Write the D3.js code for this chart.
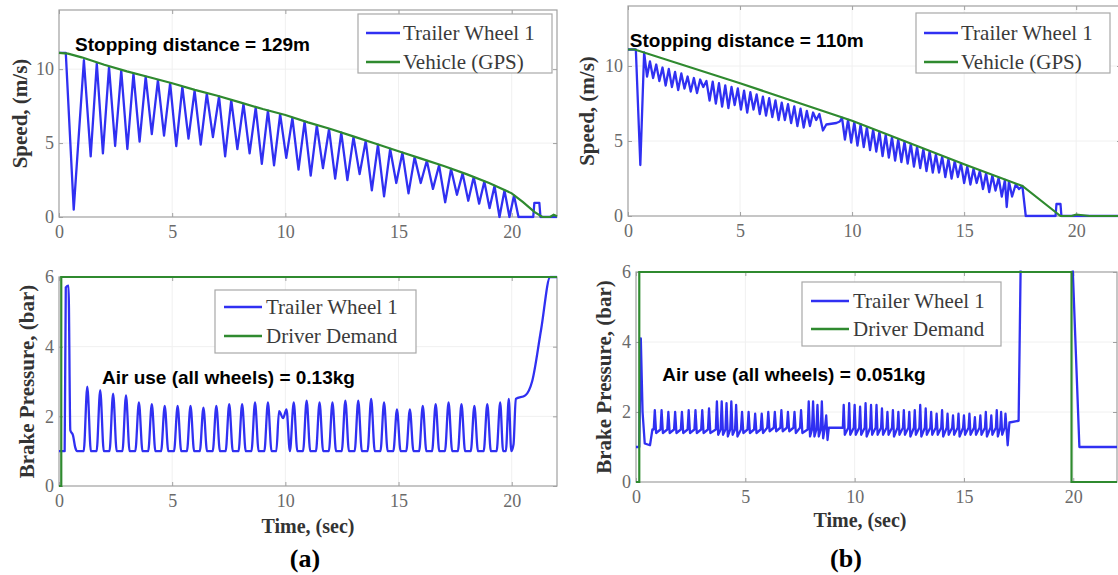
<!DOCTYPE html>
<html><head><meta charset="utf-8">
<script src="https://cdn.jsdelivr.net/npm/d3@7"></script>
<style>body{margin:0;background:#fff}svg{display:block}</style>
</head><body>
<svg id="c" width="1118" height="575"></svg>
<script>
// ---------------- data ----------------
const xTicks = [0, 5, 10, 15, 20];
const speedTicks = [0, 5, 10];
const pressTicks = [0, 2, 4, 6];
const seriesNames = ["Trailer Wheel 1", "Vehicle (GPS)", "Driver Demand"];

// (a) speed
const vehicleA = [[0,11.1],[0.4,11.05],[1,10.8],[2,10.3],[3,9.85],[4,9.45],[5,9.05],[6,8.6],[7,8.2],[8,7.75],[9,7.3],[10,6.9],[11,6.4],[12,5.95],[13,5.45],[14,4.95],[15,4.45],[16,3.95],[17,3.45],[18,2.9],[19,2.3],[20,1.6],[20.5,1.0],[21,0.35],[21.35,0],[21.7,0],[21.85,0.15],[22,0.05]];
const wheelA = [[0,11.1],[0.3,11.1],[0.65,0.5],[1.1,10.6],
[1.4,4.1],[1.67,10.4],[1.94,4.3],[2.21,10.15],[2.48,4.8],[2.75,9.9],[3.02,4.6],[3.29,9.7],[3.56,5.1],[3.83,9.5],
[4.1,5.6],[4.37,9.25],[4.64,5.5],[4.91,9.05],[5.18,4.8],[5.45,8.8],[5.72,5.3],[5.99,8.55],[6.26,4.9],[6.53,8.35],
[6.8,5.4],[7.07,8.15],[7.34,4.1],[7.61,7.9],[7.88,4.6],[8.15,7.65],[8.42,4.3],[8.69,7.4],[8.96,3.6],[9.23,7.2],
[9.5,3.5],[9.77,6.95],[10.04,4.0],[10.31,6.7],[10.58,3.2],[10.85,6.45],[11.12,2.8],[11.39,6.2],[11.66,3.3],[11.93,5.95],
[12.2,2.6],[12.47,5.7],[12.74,2.5],[13.01,5.4],[13.28,2.9],[13.55,5.15],[13.82,1.8],[14.09,4.9],[14.36,1.4],[14.63,4.6],
[14.9,2.3],[15.17,4.35],[15.44,1.6],[15.71,4.05],[15.98,2.3],[16.25,3.8],[16.52,1.9],[16.79,3.5],[17.06,1.0],[17.32,3.25],
[17.58,1.5],[17.83,2.95],[18.08,1.1],[18.32,2.7],[18.56,0.9],[18.79,2.4],[19.02,0.6],[19.24,2.1],[19.46,0.0],[19.68,1.8],
[19.9,0.0],[20.1,1.45],[20.3,0.0],[20.95,0.0],[21.0,0.95],[21.22,0.95],[21.27,0.0],[22,0.0]];

// (b) speed
const vehicleB = [[0,11.1],[0.3,11.1],[5,8.85],[10,6.35],[15,3.45],[17.6,2.0],[19.3,0],[19.8,0],[20.0,0.1],[20.3,0.05],[20.6,0],[22,0]];
const wheelB = [[0,11.1],[0.35,11.1],[0.55,3.4],[0.72,10.9],[0.85,9.3],[0.98,10.3],[1.12,9.2],[1.26,10.1],[1.4,9.0],[1.54,9.9],
[1.68,8.7],[1.82,9.8],[1.96,8.6],[2.1,9.6],[2.24,8.4],[2.38,9.5],[2.52,8.5],[2.66,9.3],[2.8,8.3],[2.94,9.2],[3.08,8.2],[3.22,9.1],
[3.36,8.6],[3.5,9.0],[3.64,7.7],[3.78,8.95],[3.92,7.5],[4.06,8.85],[4.2,7.3],[4.34,8.7],[4.48,7.2],[4.62,8.6],[4.76,7.4],[4.9,8.5],
[5.04,7.1],[5.18,8.35],[5.32,6.9],[5.46,8.25],[5.6,7.1],[5.74,8.1],[5.88,6.8],[6.02,7.95],[6.16,6.7],[6.3,7.85],[6.44,6.6],[6.58,7.7],
[6.72,6.4],[6.86,7.55],[7.0,6.4],[7.14,7.45],[7.28,6.2],[7.42,7.3],[7.56,6.0],[7.7,7.15],[7.84,5.9],[7.98,7.0],[8.12,6.0],[8.26,6.9],
[8.4,6.4],[8.54,6.8],[8.7,5.7],[8.85,6.1],[9.3,6.2],[9.45,6.3],[9.55,6.55],[9.68,5.1],[9.82,6.4],[9.96,4.9],[10.1,6.25],[10.24,4.7],
[10.38,6.1],[10.52,4.6],[10.66,5.9],[10.8,4.4],[10.94,5.75],[11.08,4.3],[11.22,5.6],[11.36,4.0],[11.5,5.4],[11.64,3.9],[11.78,5.25],
[11.92,3.7],[12.06,5.1],[12.2,3.6],[12.34,4.95],[12.48,3.5],[12.62,4.8],[12.76,3.3],[12.9,4.6],[13.04,3.2],[13.18,4.45],[13.32,3.0],
[13.46,4.3],[13.6,2.9],[13.74,4.1],[13.88,2.9],[14.02,3.95],[14.16,2.6],[14.3,3.8],[14.44,2.5],[14.58,3.65],[14.72,2.6],[14.86,3.5],
[15.0,2.2],[15.14,3.3],[15.28,2.1],[15.42,3.15],[15.56,2.2],[15.7,3.0],[15.84,1.8],[15.98,2.85],[16.12,1.6],[16.26,2.7],[16.4,1.7],
[16.54,2.55],[16.68,1.3],[16.82,2.4],[16.9,0.6],[17.0,2.3],[17.14,1.3],[17.3,2.1],[17.45,1.8],[17.6,2.0],[17.75,0.0],[19.08,0.0],
[19.12,0.8],[19.3,0.8],[19.34,0.0],[22,0.0]];

// (a) brake pressure
const demandA = [[0,0],[0.1,0],[0.1,6],[22,6]];
const pressureA = [[0,1.0],[0.25,1.0],[0.3,5.7],[0.42,5.75],[0.5,1.6],[0.62,1.45],[0.72,1.1],[0.8,1.0],
[1.09,1.0],[1.25,2.85],[1.41,1.0],[1.66,1.0],[1.82,2.75],[1.98,1.0],[2.23,1.0],[2.39,2.65],[2.55,1.0],
[2.8,1.0],[2.96,2.6],[3.12,1.0],[3.37,1.0],[3.53,2.4],[3.69,1.0],[3.94,1.0],[4.1,2.35],[4.26,1.0],
[4.51,1.0],[4.67,2.3],[4.83,1.0],[5.08,1.0],[5.24,2.3],[5.4,1.0],[5.65,1.0],[5.81,2.3],[5.97,1.0],
[6.22,1.0],[6.38,2.25],[6.54,1.0],[6.79,1.0],[6.95,2.3],[7.11,1.0],[7.36,1.0],[7.52,2.35],[7.68,1.0],
[7.93,1.0],[8.09,2.35],[8.25,1.0],[8.5,1.0],[8.66,2.4],[8.82,1.0],[9.07,1.0],[9.23,2.4],[9.39,1.0],
[9.6,1.0],[9.72,2.15],[9.9,1.95],[10.05,2.2],[10.2,1.0],[10.37,2.4],[10.53,1.0],
[10.78,1.0],[10.94,2.45],[11.1,1.0],[11.35,1.0],[11.51,2.4],[11.67,1.0],[11.92,1.0],[12.08,2.4],[12.24,1.0],
[12.49,1.0],[12.65,2.45],[12.81,1.0],[13.06,1.0],[13.22,2.45],[13.38,1.0],[13.63,1.0],[13.79,2.5],[13.95,1.0],
[14.2,1.0],[14.36,2.4],[14.52,1.0],[14.77,1.0],[14.93,2.2],[15.09,1.0],[15.34,1.0],[15.5,2.2],[15.66,1.0],
[15.91,1.0],[16.07,2.3],[16.23,1.0],[16.48,1.0],[16.64,2.35],[16.8,1.0],[17.05,1.0],[17.21,2.4],[17.37,1.0],
[17.62,1.0],[17.78,2.35],[17.94,1.0],[18.19,1.0],[18.35,2.3],[18.51,1.0],[18.76,1.0],[18.92,2.35],[19.08,1.0],
[19.33,1.0],[19.49,2.4],[19.62,1.0],[19.74,1.0],[19.87,2.5],[19.98,1.0],[20.08,1.2],[20.18,2.5],[20.6,2.6],
[20.9,3.0],[21.3,4.5],[21.7,6.0],[22,6.0]];

// (b) brake pressure
const demandB = [[0,0],[0.15,0],[0.15,6],[19.92,6],[19.92,0],[22,0]];
const pressureB = [[0,1.0],[0.15,1.0],[0.22,4.1],[0.3,2.0],[0.4,1.1],[0.64,1.05],[0.75,1.5],
[0.81,1.5],[0.86,2.05],[0.92,1.4],[1.12,1.5],[1.17,2.05],[1.23,1.4],[1.43,1.5],[1.48,2.0],[1.54,1.4],
[1.74,1.5],[1.79,2.0],[1.85,1.4],[2.05,1.5],[2.1,2.0],[2.16,1.4],[2.36,1.5],[2.41,2.05],[2.47,1.4],
[2.67,1.5],[2.72,2.05],[2.78,1.4],[2.98,1.5],[3.03,2.05],[3.09,1.4],[3.29,1.5],[3.34,2.1],[3.4,1.4],
[3.65,1.5],[3.7,2.3],[3.76,1.35],[3.87,1.5],[3.92,2.3],[3.98,1.35],[4.09,1.5],[4.14,2.25],[4.2,1.3],
[4.31,1.5],[4.36,2.3],[4.42,1.35],[4.53,1.5],[4.58,2.2],[4.64,1.3],
[4.8,1.5],[4.85,2.0],[4.91,1.4],[5.1,1.5],[5.15,2.0],[5.21,1.4],[5.4,1.5],[5.45,1.95],[5.51,1.4],
[5.7,1.5],[5.75,1.95],[5.81,1.4],[6.0,1.55],[6.05,2.0],[6.11,1.45],[6.3,1.55],[6.35,2.0],[6.41,1.45],
[6.6,1.55],[6.65,2.05],[6.71,1.45],[6.9,1.55],[6.95,2.0],[7.01,1.45],[7.2,1.55],[7.25,2.0],[7.31,1.4],
[7.5,1.55],[7.55,2.05],[7.61,1.4],[7.85,1.5],[7.9,2.3],[7.96,1.3],[8.05,1.5],[8.1,2.3],[8.16,1.3],
[8.25,1.5],[8.3,2.2],[8.36,1.3],[8.45,1.5],[8.5,2.3],[8.56,1.25],[8.65,1.6],[8.7,1.9],[8.76,1.2],
[8.82,1.55],[9.35,1.55],
[9.46,1.55],[9.5,2.2],[9.55,1.35],[9.71,1.55],[9.75,2.25],[9.8,1.35],[9.96,1.55],[10.0,2.2],[10.05,1.35],
[10.21,1.55],[10.25,2.15],[10.3,1.35],[10.46,1.55],[10.5,2.25],[10.55,1.3],[10.71,1.55],[10.75,2.2],[10.8,1.35],
[10.96,1.55],[11.0,2.2],[11.05,1.35],[11.21,1.55],[11.25,2.1],[11.3,1.35],[11.46,1.55],[11.5,2.0],[11.55,1.35],
[11.71,1.55],[11.75,2.05],[11.8,1.3],[11.96,1.55],[12.0,2.0],[12.05,1.35],[12.21,1.55],[12.25,2.05],[12.3,1.35],
[12.46,1.55],[12.5,2.0],[12.55,1.3],[12.71,1.55],[12.75,2.05],[12.8,1.35],[12.96,1.55],[13.0,2.2],[13.05,1.3],
[13.21,1.55],[13.25,2.1],[13.3,1.35],[13.46,1.55],[13.5,2.0],[13.55,1.35],[13.71,1.55],[13.75,1.95],[13.8,1.35],
[13.96,1.55],[14.0,2.05],[14.05,1.3],[14.21,1.55],[14.25,1.95],[14.3,1.35],[14.46,1.55],[14.5,1.9],[14.55,1.35],
[14.71,1.55],[14.75,1.95],[14.8,1.3],[14.96,1.55],[15.0,1.9],[15.05,1.35],[15.21,1.55],[15.25,1.95],[15.3,1.35],
[15.46,1.55],[15.5,1.85],[15.55,1.35],[15.71,1.55],[15.75,1.9],[15.8,1.35],[15.96,1.55],[16.0,2.0],[16.05,1.3],
[16.21,1.55],[16.25,1.9],[16.3,1.35],[16.46,1.55],[16.5,2.05],[16.55,1.3],[16.66,1.55],[16.7,2.0],[16.75,1.35],
[16.86,1.55],[16.9,1.95],[16.95,1.5],[17.0,1.05],[17.08,1.7],[17.5,1.75],
[17.6,6.5],[19.95,6.5],[20.28,1.0],[22,1.0]];

const notes = ["Stopping distance = 129m", "Stopping distance = 110m", "Air use (all wheels) = 0.13kg", "Air use (all wheels) = 0.051kg"];

// ---------------- drawing ----------------
const BLUE = "#3030f2", GREEN = "#2f8a2f", AXC = "#a0a0a0";
const SERIF = "'Liberation Serif','Times New Roman',Times,serif";
const SANS = "'Liberation Sans',Arial,Helvetica,sans-serif";
const svg = d3.select("#c");

const panels = [
  {x0:59, x1:557, yb:217, yt:10, ymax:14, ticks:speedTicks, ylabel:"Speed, (m/s)", ylx:20,
   blue:wheelA, green:vehicleA, gname:seriesNames[1], curve:d3.curveLinear,
   note:notes[0], noteT:0.71, noteV:11.7,
   leg:{x0:358, x1:552, y0:14, y1:73, r1:33, r2:62, s0:8, s1:42, tx:45}},
  {x0:628, x1:1121, yb:216, yt:6, ymax:14, ticks:speedTicks, ylabel:"Speed, (m/s)", ylx:587,
   blue:wheelB, green:vehicleB, gname:seriesNames[1], curve:d3.curveLinear,
   note:notes[1], noteT:0.08, noteV:11.7,
   leg:{x0:916, x1:1110, y0:13, y1:73, r1:33, r2:62, s0:8, s1:42, tx:45}},
  {x0:59, x1:557, yb:486, yt:277, ymax:6, ticks:pressTicks, ylabel:"Brake Pressure, (bar)", ylx:27,
   blue:pressureA, green:demandA, gname:seriesNames[2], curve:d3.curveMonotoneX,
   note:notes[2], noteT:1.9, noteV:3.12, xlabel:"Time, (sec)", xlabX:308, xlabY:526, tag:"(a)", tagX:305,
   leg:{x0:215, x1:416, y0:290, y1:353, r1:307, r2:336, s0:9, s1:47, tx:51}},
  {x0:636, x1:1117, yb:482, yt:272, ymax:6, ticks:pressTicks, ylabel:"Brake Pressure, (bar)", ylx:604,
   blue:pressureB, green:demandB, gname:seriesNames[2], curve:d3.curveLinear,
   note:notes[3], noteT:1.2, noteV:3.08, xlabel:"Time, (sec)", xlabX:860, xlabY:520, tag:"(b)", tagX:846,
   leg:{x0:802, x1:1001, y0:282, y1:346, r1:301, r2:329, s0:9, s1:47, tx:51}}
];

const defs = svg.append("defs");
panels.forEach((p, i) => {
  const xs = d3.scaleLinear([0, 22], [p.x0, p.x1]);
  const ys = d3.scaleLinear([0, p.ymax], [p.yb, p.yt]);
  const g = svg.append("g");
  defs.append("clipPath").attr("id", "clip" + i).append("rect")
    .attr("x", p.x0 - 1).attr("y", p.yt - 1.5).attr("width", p.x1 - p.x0 + 2).attr("height", p.yb - p.yt + 3);

  // faint grid
  g.selectAll(".gx").data(xTicks.filter(t => t > 0)).join("line")
    .attr("x1", d => xs(d)).attr("x2", d => xs(d)).attr("y1", p.yt).attr("y2", p.yb)
    .attr("stroke", "#f0f0f0").attr("stroke-width", 1);
  g.selectAll(".gy").data(p.ticks.filter(t => t > 0 && t < p.ymax)).join("line")
    .attr("x1", p.x0).attr("x2", p.x1).attr("y1", d => ys(d)).attr("y2", d => ys(d))
    .attr("stroke", "#f0f0f0").attr("stroke-width", 1);

  // axes (MATLAB-style inward ticks on all four sides)
  const styleAxis = sel => {
    sel.attr("font-family", SERIF).attr("font-size", 18);
    sel.select(".domain").remove();
    sel.selectAll(".tick line").attr("stroke", AXC);
    sel.selectAll(".tick text").attr("fill", "#6a6a6a").attr("font-family", SERIF).attr("font-size", 18);
  };
  const fmt = d3.format("d");
  g.append("g").attr("transform", `translate(0,${p.yb})`)
    .call(d3.axisBottom(xs).tickValues(xTicks).tickFormat(fmt).tickSize(-4).tickPadding(8)).call(styleAxis);
  g.append("g").attr("transform", `translate(${p.x0},0)`)
    .call(d3.axisLeft(ys).tickValues(p.ticks).tickFormat(fmt).tickSize(-4).tickPadding(5)).call(styleAxis);
  g.append("g").attr("transform", `translate(0,${p.yt})`)
    .call(d3.axisTop(xs).tickValues(xTicks).tickSize(-4).tickFormat("")).call(styleAxis);
  g.append("g").attr("transform", `translate(${p.x1},0)`)
    .call(d3.axisRight(ys).tickValues(p.ticks).tickSize(-4).tickFormat("")).call(styleAxis);

  g.append("rect").attr("x", p.x0).attr("y", p.yt).attr("width", p.x1 - p.x0).attr("height", p.yb - p.yt)
    .attr("fill", "none").attr("stroke", AXC).attr("stroke-width", 1.2);

  // data lines
  const line = d3.line().x(d => xs(d[0])).y(d => ys(d[1])).curve(p.curve);
  const lg = g.append("g").attr("clip-path", `url(#clip${i})`);
  lg.append("path").datum(p.blue).attr("d", line).attr("fill", "none")
    .attr("stroke", BLUE).attr("stroke-width", 2.3).attr("stroke-linejoin", "round");
  lg.append("path").datum(p.green).attr("d", d3.line().x(d => xs(d[0])).y(d => ys(d[1])))
    .attr("fill", "none").attr("stroke", GREEN).attr("stroke-width", 2.2);

  // annotation
  g.append("text").attr("x", xs(p.noteT)).attr("y", ys(p.noteV)).attr("dy", "0.35em")
    .attr("font-family", SANS).attr("font-weight", "bold").attr("font-size", 19)
    .attr("fill", "#000").text(p.note);

  // legend
  const L = p.leg;
  const lgd = g.append("g");
  lgd.append("rect").attr("x", L.x0).attr("y", L.y0).attr("width", L.x1 - L.x0).attr("height", L.y1 - L.y0)
    .attr("fill", "#fff").attr("stroke", "#a8a8a8").attr("stroke-width", 1.2);
  [[BLUE, seriesNames[0], L.r1], [GREEN, p.gname, L.r2]].forEach(([c, name, ry]) => {
    lgd.append("line").attr("x1", L.x0 + L.s0).attr("x2", L.x0 + L.s1).attr("y1", ry).attr("y2", ry)
      .attr("stroke", c).attr("stroke-width", 2.4);
    lgd.append("text").attr("x", L.x0 + L.tx).attr("y", ry).attr("dy", "0.35em")
      .attr("font-family", SERIF).attr("font-size", 21)
      .attr("fill", "#3a3a3a").text(name);
  });

  // y label
  const ymid = (p.yt + p.yb) / 2;
  g.append("text").attr("transform", `translate(${p.ylx},${ymid}) rotate(-90)`)
    .attr("text-anchor", "middle").attr("dy", "0.35em")
    .attr("font-family", SERIF).attr("font-weight", "bold").attr("font-size", 21)
    .attr("fill", "#333").text(p.ylabel);

  if (p.xlabel) {
    g.append("text").attr("x", p.xlabX).attr("y", p.xlabY).attr("dy", "0.35em").attr("text-anchor", "middle")
      .attr("font-family", SERIF).attr("font-weight", "bold").attr("font-size", 20)
      .attr("fill", "#333").text(p.xlabel);
    g.append("text").attr("x", p.tagX).attr("y", 558).attr("dy", "0.35em").attr("text-anchor", "middle")
      .attr("font-family", SERIF).attr("font-weight", "bold").attr("font-size", 26)
      .attr("fill", "#000").text(p.tag);
  }
});
</script>
</body></html>
